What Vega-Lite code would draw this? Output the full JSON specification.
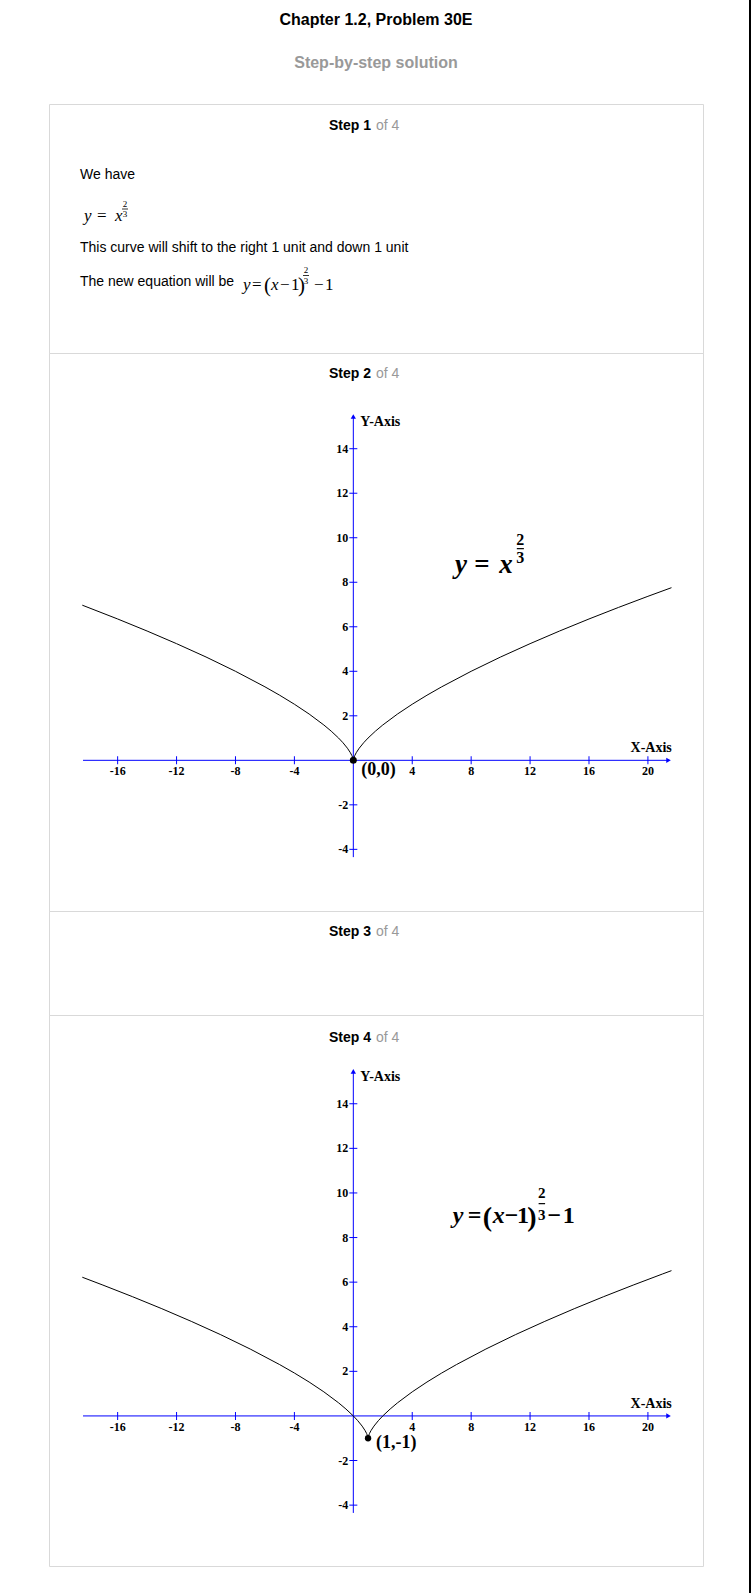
{
  "$schema": "https://vega.github.io/schema/vega-lite/v6.json",
  "background": "white",
  "padding": {"left": 48, "top": 0, "right": 0, "bottom": 0},
  "config": {"view": {"stroke": "#d9d9d9"}},
  "datasets": {
    "axes": [
      {"x": -18.35, "y": 0, "x2": 21.35, "y2": 0},
      {"x": 0, "y": -4.35, "x2": 0, "y2": 15.45}
    ],
    "xticks": [
      {"x": -16, "y": 0, "label": "-16"}, {"x": -12, "y": 0, "label": "-12"},
      {"x": -8, "y": 0, "label": "-8"}, {"x": -4, "y": 0, "label": "-4"},
      {"x": 4, "y": 0, "label": "4"}, {"x": 8, "y": 0, "label": "8"},
      {"x": 12, "y": 0, "label": "12"}, {"x": 16, "y": 0, "label": "16"},
      {"x": 20, "y": 0, "label": "20"}
    ],
    "yticks": [
      {"x": 0, "y": -4, "label": "-4"}, {"x": 0, "y": -2, "label": "-2"},
      {"x": 0, "y": 2, "label": "2"}, {"x": 0, "y": 4, "label": "4"},
      {"x": 0, "y": 6, "label": "6"}, {"x": 0, "y": 8, "label": "8"},
      {"x": 0, "y": 10, "label": "10"}, {"x": 0, "y": 12, "label": "12"},
      {"x": 0, "y": 14, "label": "14"}
    ],
    "curve1": [
      {"x": -18.4, "y": 6.97}, {"x": -16, "y": 6.35}, {"x": -14, "y": 5.809}, {"x": -12, "y": 5.241},
      {"x": -10, "y": 4.642}, {"x": -8, "y": 4.0}, {"x": -6, "y": 3.302}, {"x": -5, "y": 2.924},
      {"x": -4, "y": 2.52}, {"x": -3, "y": 2.08}, {"x": -2, "y": 1.587}, {"x": -1.5, "y": 1.31},
      {"x": -1, "y": 1.0}, {"x": -0.7, "y": 0.788}, {"x": -0.4, "y": 0.543}, {"x": -0.2, "y": 0.342},
      {"x": -0.1, "y": 0.215}, {"x": -0.05, "y": 0.136}, {"x": -0.01, "y": 0.046}, {"x": 0, "y": 0},
      {"x": 0.01, "y": 0.046}, {"x": 0.05, "y": 0.136}, {"x": 0.1, "y": 0.215}, {"x": 0.2, "y": 0.342},
      {"x": 0.4, "y": 0.543}, {"x": 0.7, "y": 0.788}, {"x": 1, "y": 1.0}, {"x": 1.5, "y": 1.31},
      {"x": 2, "y": 1.587}, {"x": 3, "y": 2.08}, {"x": 4, "y": 2.52}, {"x": 5, "y": 2.924},
      {"x": 6, "y": 3.302}, {"x": 8, "y": 4.0}, {"x": 10, "y": 4.642}, {"x": 12, "y": 5.241},
      {"x": 14, "y": 5.809}, {"x": 16, "y": 6.35}, {"x": 18, "y": 6.868}, {"x": 20, "y": 7.368},
      {"x": 21.6, "y": 7.756}
    ],
    "curve2": [
      {"x": -18.4, "y": 6.22}, {"x": -17, "y": 5.868}, {"x": -15, "y": 5.35}, {"x": -13, "y": 4.809},
      {"x": -11, "y": 4.241}, {"x": -9, "y": 3.642}, {"x": -7, "y": 3.0}, {"x": -5, "y": 2.302},
      {"x": -4, "y": 1.924}, {"x": -3, "y": 1.52}, {"x": -2, "y": 1.08}, {"x": -1, "y": 0.587},
      {"x": -0.5, "y": 0.31}, {"x": 0, "y": 0}, {"x": 0.3, "y": -0.212}, {"x": 0.6, "y": -0.457},
      {"x": 0.8, "y": -0.658}, {"x": 0.9, "y": -0.785}, {"x": 0.95, "y": -0.864}, {"x": 0.99, "y": -0.954},
      {"x": 1, "y": -1}, {"x": 1.01, "y": -0.954}, {"x": 1.05, "y": -0.864}, {"x": 1.1, "y": -0.785},
      {"x": 1.2, "y": -0.658}, {"x": 1.4, "y": -0.457}, {"x": 1.7, "y": -0.212}, {"x": 2, "y": 0},
      {"x": 2.5, "y": 0.31}, {"x": 3, "y": 0.587}, {"x": 4, "y": 1.08}, {"x": 5, "y": 1.52},
      {"x": 6, "y": 1.924}, {"x": 7, "y": 2.302}, {"x": 9, "y": 3.0}, {"x": 11, "y": 3.642},
      {"x": 13, "y": 4.241}, {"x": 15, "y": 4.809}, {"x": 17, "y": 5.35}, {"x": 19, "y": 5.868},
      {"x": 21, "y": 6.368}, {"x": 21.6, "y": 6.515}
    ]
  },
  "hconcat": [
    {
      "spacing": 0,
      "bounds": "flush",
      "vconcat": [
        {
          "width": 654, "height": 104,
          "view": {"stroke": null},
          "encoding": {
            "x": {"field": "x", "type": "quantitative", "scale": {"domain": [0, 654], "nice": false, "zero": false}, "axis": null},
            "y": {"field": "y", "type": "quantitative", "scale": {"domain": [0, 104], "nice": false, "zero": false, "reverse": true}, "axis": null}
          },
          "layer": [
            {"data": {"values": [{"x": 327, "y": 20, "label": "Chapter 1.2, Problem 30E"}]},
             "mark": {"type": "text", "font": "Liberation Sans", "fontSize": 16, "fontWeight": "bold", "color": "#000000", "align": "center", "baseline": "middle"},
             "encoding": {"text": {"field": "label"}}},
            {"data": {"values": [{"x": 327, "y": 63, "label": "Step-by-step solution"}]},
             "mark": {"type": "text", "font": "Liberation Sans", "fontSize": 16, "fontWeight": "bold", "color": "#999999", "align": "center", "baseline": "middle"},
             "encoding": {"text": {"field": "label"}}}
          ]
        },
        {
          "width": 654, "height": 249,
          "encoding": {
            "x": {"field": "x", "type": "quantitative", "scale": {"domain": [0, 654], "nice": false, "zero": false}, "axis": null},
            "y": {"field": "y", "type": "quantitative", "scale": {"domain": [0, 249], "nice": false, "zero": false, "reverse": true}, "axis": null}
          },
          "layer": [
            {"data": {"values": [{"x": 322, "y": 22, "label": "Step 1"}]},
             "mark": {"type": "text", "font": "Liberation Sans", "fontSize": 14, "fontWeight": "bold", "color": "#000000", "align": "right", "baseline": "middle"},
             "encoding": {"text": {"field": "label"}}},
            {"data": {"values": [{"x": 327, "y": 22, "label": "of 4"}]},
             "mark": {"type": "text", "font": "Liberation Sans", "fontSize": 14, "color": "#999999", "align": "left", "baseline": "middle"},
             "encoding": {"text": {"field": "label"}}},
            {"data": {"values": [
               {"x": 31, "y": 71, "label": "We have"},
               {"x": 31, "y": 144, "label": "This curve will shift to the right 1 unit and down 1 unit"},
               {"x": 31, "y": 178, "label": "The new equation will be"}]},
             "mark": {"type": "text", "font": "Liberation Sans", "fontSize": 14, "color": "#000000", "align": "left", "baseline": "middle"},
             "encoding": {"text": {"field": "label"}}},
            {"data": {"values": [
               {"x": 35, "y": 117, "label": "y"}, {"x": 66, "y": 117, "label": "x"},
               {"x": 194, "y": 186, "label": "y"}, {"x": 222, "y": 186, "label": "x"}]},
             "mark": {"type": "text", "font": "Liberation Serif", "fontSize": 17, "fontStyle": "italic", "color": "#000000", "align": "left", "baseline": "alphabetic"},
             "encoding": {"text": {"field": "label"}}},
            {"data": {"values": [
               {"x": 48, "y": 117, "label": "="}, {"x": 203, "y": 186, "label": "="},
               {"x": 231, "y": 186, "label": "−"}, {"x": 242, "y": 186, "label": "1"},
               {"x": 265, "y": 186, "label": "−"}, {"x": 276, "y": 186, "label": "1"}]},
             "mark": {"type": "text", "font": "Liberation Serif", "fontSize": 17, "color": "#000000", "align": "left", "baseline": "alphabetic"},
             "encoding": {"text": {"field": "label"}}},
            {"data": {"values": [{"x": 215, "y": 188, "label": "("}, {"x": 249, "y": 188, "label": ")"}]},
             "mark": {"type": "text", "font": "Liberation Serif", "fontSize": 21, "color": "#000000", "align": "left", "baseline": "alphabetic"},
             "encoding": {"text": {"field": "label"}}},
            {"data": {"values": [
               {"x": 76, "y": 100, "label": "2"}, {"x": 76, "y": 110, "label": "3"},
               {"x": 257, "y": 166, "label": "2"}, {"x": 257, "y": 177, "label": "3"}]},
             "mark": {"type": "text", "font": "Liberation Serif", "fontSize": 9, "color": "#000000", "align": "center", "baseline": "middle"},
             "encoding": {"text": {"field": "label"}}},
            {"data": {"values": [{"x": 73, "x2": 79, "y": 105, "y2": 105}, {"x": 254, "x2": 260, "y": 171.5, "y2": 171.5}]},
             "mark": {"type": "rule", "color": "#000000", "strokeWidth": 0.8},
             "encoding": {"x2": {"field": "x2"}, "y2": {"field": "y2"}}}
          ]
        },
        {
          "width": 654, "height": 558,
          "encoding": {
            "x": {"field": "x", "type": "quantitative", "scale": {"domain": [-20.66, 23.74], "nice": false, "zero": false}, "axis": null},
            "y": {"field": "y", "type": "quantitative", "scale": {"domain": [-6.77, 18.3], "nice": false, "zero": false}, "axis": null}
          },
          "layer": [
            {"data": {"values": [{"x": 1.2, "y": 17.35, "label": "Step 2"}]},
             "mark": {"type": "text", "font": "Liberation Sans", "fontSize": 14, "fontWeight": "bold", "color": "#000000", "align": "right", "baseline": "middle"},
             "encoding": {"text": {"field": "label"}}},
            {"data": {"values": [{"x": 1.54, "y": 17.35, "label": "of 4"}]},
             "mark": {"type": "text", "font": "Liberation Sans", "fontSize": 14, "color": "#999999", "align": "left", "baseline": "middle"},
             "encoding": {"text": {"field": "label"}}},
            {"data": {"name": "axes"},
             "mark": {"type": "rule", "color": "#0000ff", "strokeWidth": 1},
             "encoding": {"x2": {"field": "x2"}, "y2": {"field": "y2"}}},
            {"data": {"values": [{"x": 21.4, "y": 0}]},
             "mark": {"type": "point", "shape": "triangle-right", "filled": true, "color": "#0000ff", "size": 28, "opacity": 1}},
            {"data": {"values": [{"x": 0, "y": 15.45}]},
             "mark": {"type": "point", "shape": "triangle-up", "filled": true, "color": "#0000ff", "size": 28, "opacity": 1}},
            {"data": {"name": "xticks"},
             "mark": {"type": "tick", "orient": "vertical", "size": 8, "thickness": 1, "color": "#0000ff", "opacity": 1}},
            {"data": {"name": "yticks"},
             "mark": {"type": "tick", "orient": "horizontal", "size": 8, "thickness": 1, "color": "#0000ff", "opacity": 1}},
            {"data": {"name": "xticks"},
             "mark": {"type": "text", "font": "Liberation Serif", "fontSize": 12, "fontWeight": "bold", "color": "#000000", "align": "center", "baseline": "middle", "dy": 11},
             "encoding": {"text": {"field": "label"}}},
            {"data": {"name": "yticks"},
             "mark": {"type": "text", "font": "Liberation Serif", "fontSize": 12, "fontWeight": "bold", "color": "#000000", "align": "right", "baseline": "middle", "dx": -5},
             "encoding": {"text": {"field": "label"}}},
            {"data": {"values": [{"x": 21.62, "y": 0, "label": "X-Axis"}]},
             "mark": {"type": "text", "font": "Liberation Serif", "fontSize": 14, "fontWeight": "bold", "color": "#000000", "align": "right", "baseline": "middle", "dy": -12},
             "encoding": {"text": {"field": "label"}}},
            {"data": {"values": [{"x": 0, "y": 15.6, "label": "Y-Axis"}]},
             "mark": {"type": "text", "font": "Liberation Serif", "fontSize": 14, "fontWeight": "bold", "color": "#000000", "align": "left", "baseline": "middle", "dx": 7, "dy": 9},
             "encoding": {"text": {"field": "label"}}},
            {"data": {"name": "curve1"},
             "mark": {"type": "line", "color": "#000000", "strokeWidth": 1},
             "encoding": {}},
            {"data": {"values": [{"x": 0, "y": 0, "label": "(0,0)"}]},
             "mark": {"type": "point", "shape": "circle", "filled": true, "color": "#000000", "size": 49, "opacity": 1}},
            {"data": {"values": [{"x": 0, "y": 0, "label": "(0,0)"}]},
             "mark": {"type": "text", "font": "Liberation Serif", "fontSize": 18, "fontWeight": "bold", "color": "#000000", "align": "left", "baseline": "middle", "dx": 8, "dy": 10},
             "encoding": {"text": {"field": "label"}}},
            {"data": {"values": [{"x": 6.9, "y": 8.41, "label": "y"}, {"x": 9.91, "y": 8.41, "label": "x"}]},
             "mark": {"type": "text", "font": "Liberation Serif", "fontSize": 27, "fontWeight": "bold", "fontStyle": "italic", "color": "#000000", "align": "left", "baseline": "alphabetic"},
             "encoding": {"text": {"field": "label"}}},
            {"data": {"values": [{"x": 8.21, "y": 8.41, "label": "="}]},
             "mark": {"type": "text", "font": "Liberation Serif", "fontSize": 27, "fontWeight": "bold", "color": "#000000", "align": "left", "baseline": "alphabetic"},
             "encoding": {"text": {"field": "label"}}},
            {"data": {"values": [{"x": 11.34, "y": 9.92, "label": "2"}, {"x": 11.34, "y": 9.11, "label": "3"}]},
             "mark": {"type": "text", "font": "Liberation Serif", "fontSize": 16, "fontWeight": "bold", "color": "#000000", "align": "center", "baseline": "middle"},
             "encoding": {"text": {"field": "label"}}},
            {"data": {"values": [{"x": 11.1, "x2": 11.58, "y": 9.51, "y2": 9.51}]},
             "mark": {"type": "rule", "color": "#000000", "strokeWidth": 1.2},
             "encoding": {"x2": {"field": "x2"}, "y2": {"field": "y2"}}}
          ]
        },
        {
          "width": 654, "height": 104,
          "encoding": {
            "x": {"field": "x", "type": "quantitative", "scale": {"domain": [0, 654], "nice": false, "zero": false}, "axis": null},
            "y": {"field": "y", "type": "quantitative", "scale": {"domain": [0, 104], "nice": false, "zero": false, "reverse": true}, "axis": null}
          },
          "layer": [
            {"data": {"values": [{"x": 322, "y": 21, "label": "Step 3"}]},
             "mark": {"type": "text", "font": "Liberation Sans", "fontSize": 14, "fontWeight": "bold", "color": "#000000", "align": "right", "baseline": "middle"},
             "encoding": {"text": {"field": "label"}}},
            {"data": {"values": [{"x": 327, "y": 21, "label": "of 4"}]},
             "mark": {"type": "text", "font": "Liberation Sans", "fontSize": 14, "color": "#999999", "align": "left", "baseline": "middle"},
             "encoding": {"text": {"field": "label"}}}
          ]
        },
        {
          "width": 654, "height": 551,
          "encoding": {
            "x": {"field": "x", "type": "quantitative", "scale": {"domain": [-20.66, 23.74], "nice": false, "zero": false}, "axis": null},
            "y": {"field": "y", "type": "quantitative", "scale": {"domain": [-6.73, 17.98], "nice": false, "zero": false}, "axis": null}
          },
          "layer": [
            {"data": {"values": [{"x": 1.2, "y": 16.97, "label": "Step 4"}]},
             "mark": {"type": "text", "font": "Liberation Sans", "fontSize": 14, "fontWeight": "bold", "color": "#000000", "align": "right", "baseline": "middle"},
             "encoding": {"text": {"field": "label"}}},
            {"data": {"values": [{"x": 1.54, "y": 16.97, "label": "of 4"}]},
             "mark": {"type": "text", "font": "Liberation Sans", "fontSize": 14, "color": "#999999", "align": "left", "baseline": "middle"},
             "encoding": {"text": {"field": "label"}}},
            {"data": {"name": "axes"},
             "mark": {"type": "rule", "color": "#0000ff", "strokeWidth": 1},
             "encoding": {"x2": {"field": "x2"}, "y2": {"field": "y2"}}},
            {"data": {"values": [{"x": 21.4, "y": 0}]},
             "mark": {"type": "point", "shape": "triangle-right", "filled": true, "color": "#0000ff", "size": 28, "opacity": 1}},
            {"data": {"values": [{"x": 0, "y": 15.45}]},
             "mark": {"type": "point", "shape": "triangle-up", "filled": true, "color": "#0000ff", "size": 28, "opacity": 1}},
            {"data": {"name": "xticks"},
             "mark": {"type": "tick", "orient": "vertical", "size": 8, "thickness": 1, "color": "#0000ff", "opacity": 1}},
            {"data": {"name": "yticks"},
             "mark": {"type": "tick", "orient": "horizontal", "size": 8, "thickness": 1, "color": "#0000ff", "opacity": 1}},
            {"data": {"name": "xticks"},
             "mark": {"type": "text", "font": "Liberation Serif", "fontSize": 12, "fontWeight": "bold", "color": "#000000", "align": "center", "baseline": "middle", "dy": 11},
             "encoding": {"text": {"field": "label"}}},
            {"data": {"name": "yticks"},
             "mark": {"type": "text", "font": "Liberation Serif", "fontSize": 12, "fontWeight": "bold", "color": "#000000", "align": "right", "baseline": "middle", "dx": -5},
             "encoding": {"text": {"field": "label"}}},
            {"data": {"values": [{"x": 21.62, "y": 0, "label": "X-Axis"}]},
             "mark": {"type": "text", "font": "Liberation Serif", "fontSize": 14, "fontWeight": "bold", "color": "#000000", "align": "right", "baseline": "middle", "dy": -12},
             "encoding": {"text": {"field": "label"}}},
            {"data": {"values": [{"x": 0, "y": 15.6, "label": "Y-Axis"}]},
             "mark": {"type": "text", "font": "Liberation Serif", "fontSize": 14, "fontWeight": "bold", "color": "#000000", "align": "left", "baseline": "middle", "dx": 7, "dy": 9},
             "encoding": {"text": {"field": "label"}}},
            {"data": {"name": "curve2"},
             "mark": {"type": "line", "color": "#000000", "strokeWidth": 1},
             "encoding": {}},
            {"data": {"values": [{"x": 1, "y": -1, "label": "(1,-1)"}]},
             "mark": {"type": "point", "shape": "circle", "filled": true, "color": "#000000", "size": 40, "opacity": 1}},
            {"data": {"values": [{"x": 1, "y": -1, "label": "(1,-1)"}]},
             "mark": {"type": "text", "font": "Liberation Serif", "fontSize": 18, "fontWeight": "bold", "color": "#000000", "align": "left", "baseline": "middle", "dx": 8, "dy": 5},
             "encoding": {"text": {"field": "label"}}},
            {"data": {"values": [{"x": 6.75, "y": 8.65, "label": "y"}, {"x": 9.46, "y": 8.65, "label": "x"}]},
             "mark": {"type": "text", "font": "Liberation Serif", "fontSize": 24, "fontWeight": "bold", "fontStyle": "italic", "color": "#000000", "align": "left", "baseline": "alphabetic"},
             "encoding": {"text": {"field": "label"}}},
            {"data": {"values": [
               {"x": 7.77, "y": 8.65, "label": "="}, {"x": 10.28, "y": 8.65, "label": "−"},
               {"x": 11.12, "y": 8.65, "label": "1"}, {"x": 13.18, "y": 8.65, "label": "−"},
               {"x": 14.22, "y": 8.65, "label": "1"}]},
             "mark": {"type": "text", "font": "Liberation Serif", "fontSize": 24, "fontWeight": "bold", "color": "#000000", "align": "left", "baseline": "alphabetic"},
             "encoding": {"text": {"field": "label"}}},
            {"data": {"values": [{"x": 8.78, "y": 8.5, "label": "("}, {"x": 11.8, "y": 8.5, "label": ")"}]},
             "mark": {"type": "text", "font": "Liberation Serif", "fontSize": 28, "fontWeight": "bold", "color": "#000000", "align": "left", "baseline": "alphabetic"},
             "encoding": {"text": {"field": "label"}}},
            {"data": {"values": [{"x": 12.8, "y": 10.0, "label": "2"}, {"x": 12.8, "y": 9.0, "label": "3"}]},
             "mark": {"type": "text", "font": "Liberation Serif", "fontSize": 15, "fontWeight": "bold", "color": "#000000", "align": "center", "baseline": "middle"},
             "encoding": {"text": {"field": "label"}}},
            {"data": {"values": [{"x": 12.58, "x2": 13.02, "y": 9.52, "y2": 9.52}]},
             "mark": {"type": "rule", "color": "#000000", "strokeWidth": 1.2},
             "encoding": {"x2": {"field": "x2"}, "y2": {"field": "y2"}}}
          ]
        }
      ]
    },
    {
      "width": 2, "height": 1593,
      "view": {"fill": "#000000", "stroke": null},
      "data": {"values": [{"edge": "window frame"}]},
      "mark": {"type": "text", "text": ""},
      "encoding": {}
    }
  ],
  "spacing": 45
}
